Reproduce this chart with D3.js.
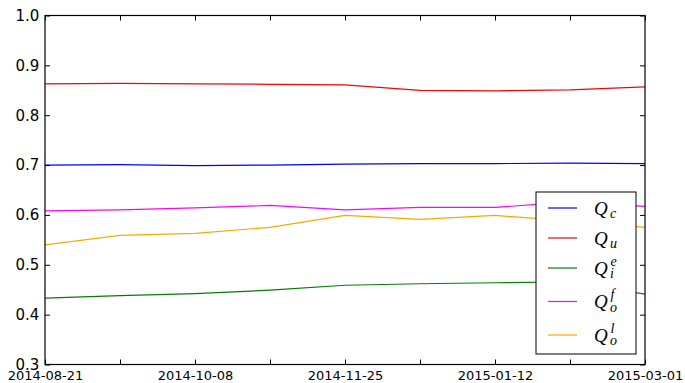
<!DOCTYPE html>
<html>
<head>
<meta charset="utf-8">
<script src="https://cdn.jsdelivr.net/npm/d3@7"></script>
<style>
  html, body { margin: 0; padding: 0; background: #fff; }
  svg { display: block; }
</style>
</head>
<body>
<svg id="chart" width="685" height="383"></svg>
<script>
// Sampling dates (every 24 days) and the quality series measured on them
const dates = ["2014-08-21", "2014-09-14", "2014-10-08", "2014-11-01", "2014-11-25",
               "2014-12-19", "2015-01-12", "2015-02-05", "2015-03-01"];
const labelledDates = ["2014-08-21", "2014-10-08", "2014-11-25", "2015-01-12", "2015-03-01"];
const yTicks = [0.3, 0.4, 0.5, 0.6, 0.7, 0.8, 0.9, 1.0];

const qC  = [0.700, 0.701, 0.699, 0.700, 0.702, 0.703, 0.703, 0.704, 0.703];
const qU  = [0.863, 0.864, 0.863, 0.862, 0.861, 0.850, 0.849, 0.851, 0.857];
const qIE = [0.433, 0.438, 0.442, 0.449, 0.459, 0.462, 0.464, 0.466, 0.441];
const qOF = [0.608, 0.610, 0.614, 0.619, 0.610, 0.615, 0.615, 0.626, 0.617];
const qOL = [0.540, 0.559, 0.563, 0.575, 0.599, 0.591, 0.599, 0.588, 0.575];

const series = [
  { values: qC,  color: "#0000ff", base: "Q", sub: "c", sup: null },
  { values: qU,  color: "#ff0000", base: "Q", sub: "u", sup: null },
  { values: qIE, color: "#008000", base: "Q", sub: "i", sup: "e" },
  { values: qOF, color: "#ff00ff", base: "Q", sub: "o", sup: "f" },
  { values: qOL, color: "#ffa500", base: "Q", sub: "o", sup: "l" }
];

const parse = d3.timeParse("%Y-%m-%d");
const fmt = d3.timeFormat("%Y-%m-%d");
const xDates = dates.map(parse);

const plot = { left: 45, right: 645, top: 15.5, bottom: 364.5 };
const svg = d3.select("#chart");

const x = d3.scaleTime()
  .domain([xDates[0], xDates[xDates.length - 1]])
  .range([plot.left, plot.right]);
const y = d3.scaleLinear().domain([0.3, 1.0]).range([plot.bottom, plot.top]);

svg.append("defs").append("clipPath").attr("id", "plot-clip")
  .append("rect")
  .attr("x", plot.left).attr("y", plot.top)
  .attr("width", plot.right - plot.left).attr("height", plot.bottom - plot.top);

// Data lines
const line = d3.line()
  .x((d, i) => x(xDates[i]))
  .y(d => y(d));

const lines = svg.append("g").attr("clip-path", "url(#plot-clip)");
series.forEach(s => {
  lines.append("path")
    .datum(s.values)
    .attr("d", line)
    .attr("fill", "none")
    .attr("stroke", s.color)
    .attr("stroke-width", 1.2)
    .attr("stroke-linejoin", "round");
});

// Axes: ticks point inward on all four sides
const tickLen = 5;
const labelled = new Set(labelledDates);

const bottomAxis = d3.axisBottom(x).tickValues(xDates)
  .tickSize(-tickLen).tickPadding(tickLen + 3)
  .tickFormat(d => labelled.has(fmt(d)) ? fmt(d) : "");
const topAxis = d3.axisTop(x).tickValues(xDates)
  .tickSize(-tickLen).tickFormat("");
const leftAxis = d3.axisLeft(y).tickValues(yTicks)
  .tickSize(-tickLen).tickPadding(tickLen + 3)
  .tickFormat(d3.format(".1f"));
const rightAxis = d3.axisRight(y).tickValues(yTicks)
  .tickSize(-tickLen).tickFormat("");

function styleAxis(g) {
  g.select(".domain").remove();
  g.selectAll(".tick line").attr("stroke", "#000").attr("stroke-width", 1);
  g.selectAll(".tick text").attr("fill", "#000").attr("font-family", "DejaVu Sans");
}

svg.append("g").attr("transform", `translate(0,${plot.bottom})`).call(bottomAxis).call(styleAxis)
  .selectAll(".tick text").attr("font-size", 13).attr("dy", "0.55em");
svg.append("g").attr("transform", `translate(0,${plot.top})`).call(topAxis).call(styleAxis);
svg.append("g").attr("transform", `translate(${plot.left},0)`).call(leftAxis).call(styleAxis)
  .selectAll(".tick text").attr("font-size", 15).attr("dx", "0.15em");
svg.append("g").attr("transform", `translate(${plot.right},0)`).call(rightAxis).call(styleAxis);

// Frame
svg.append("rect")
  .attr("x", plot.left).attr("y", plot.top)
  .attr("width", plot.right - plot.left).attr("height", plot.bottom - plot.top)
  .attr("fill", "none").attr("stroke", "#000").attr("stroke-width", 1.2);

// Legend
const legend = svg.append("g").attr("transform", "translate(536,192)");
legend.append("rect")
  .attr("x", 0).attr("y", 0).attr("width", 100).attr("height", 162)
  .attr("fill", "#fff").attr("stroke", "#000").attr("stroke-width", 1);

const rowY = [16, 46, 76, 109.5, 143];
series.forEach((s, i) => {
  const cy = rowY[i];
  legend.append("line")
    .attr("x1", 12).attr("x2", 41).attr("y1", cy).attr("y2", cy)
    .attr("stroke", s.color).attr("stroke-width", 1.2);
  legend.append("text")
    .attr("x", 58).attr("y", cy + 6.5)
    .attr("font-family", "Liberation Serif").attr("font-style", "italic")
    .attr("font-size", 19).attr("fill", "#000")
    .text(s.base);
  legend.append("text")
    .attr("x", 74).attr("y", cy + 10)
    .attr("font-family", "Liberation Serif").attr("font-style", "italic")
    .attr("font-size", 14).attr("fill", "#000")
    .text(s.sub);
  if (s.sup) {
    legend.append("text")
      .attr("x", 74.5).attr("y", cy - 2.5)
      .attr("font-family", "Liberation Serif").attr("font-style", "italic")
      .attr("font-size", 14).attr("fill", "#000")
      .text(s.sup);
  }
});
</script>
</body>
</html>
